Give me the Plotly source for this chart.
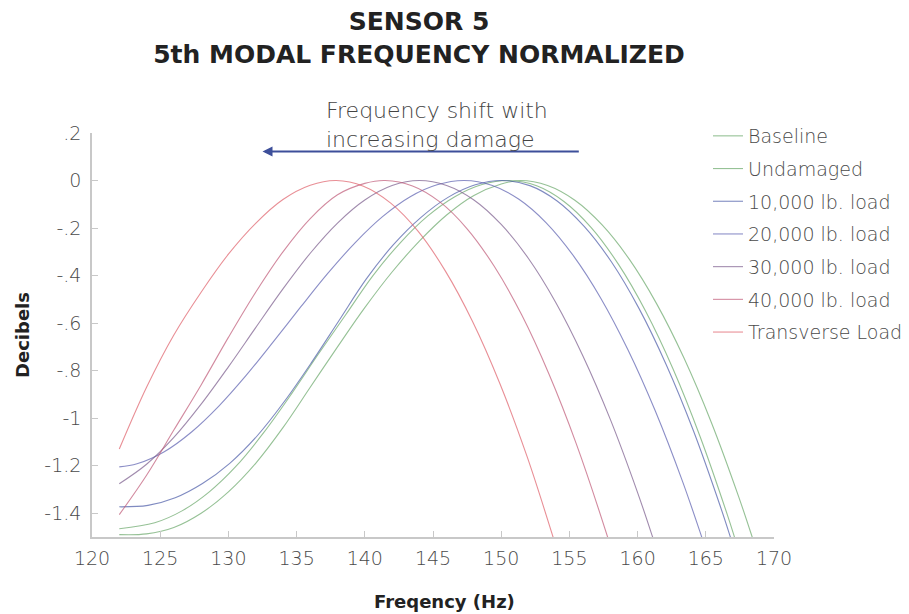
import plotly.graph_objects as go

series_names = ["Baseline", "Undamaged", "10,000 lb. load", "20,000 lb. load",
                "30,000 lb. load", "40,000 lb. load", "Transverse Load"]
series_colors = ["#6aa86a", "#6aa86a", "#4b5ba8", "#5b5fb0", "#7a5b8c", "#c05a78", "#e0606a"]

baseline_f = [122, 124, 126, 128, 130, 132, 134, 136, 138, 140, 142, 144, 146, 148, 150, 151.4,
              153.4, 155.4, 157.4, 159.4, 161.4, 163.4, 165.4, 167.4, 168.4, 169.2]
baseline_db = [-1.49, -1.487, -1.46, -1.40, -1.31, -1.19, -1.04, -0.87, -0.70, -0.535, -0.385, -0.255, -0.145,
               -0.063, -0.015, 0, -0.021, -0.083, -0.187, -0.332, -0.519, -0.747, -1.017, -1.329, -1.5, -1.644]

undamaged_f = [122, 124.6, 126.6, 128.6, 130.6, 132.6, 134.6, 136.6, 138.6, 140.6, 142.6, 144.6, 146.6,
               148.6, 150.6, 152.6, 154.6, 156.6, 158.6, 160.6, 162.6, 164.6, 166.6, 167.1, 167.9]
undamaged_db = [-1.465, -1.44, -1.39, -1.31, -1.20, -1.06, -0.90, -0.73, -0.565, -0.40, -0.262, -0.15, -0.068,
                -0.017, 0, -0.022, -0.088, -0.198, -0.353, -0.551, -0.793, -1.08, -1.41, -1.5, -1.65]

load10k_f = [122, 124.1, 126.1, 128.1, 130.1, 132.1, 134.1, 136.1, 138.1, 140.1, 142.1, 144.1, 146.1,
             148.1, 150.1, 152.1, 154.1, 156.1, 158.1, 160.1, 162.1, 164.1, 166.1, 166.8, 167.6]
load10k_db = [-1.373, -1.367, -1.335, -1.275, -1.19, -1.075, -0.93, -0.765, -0.59, -0.415, -0.27, -0.156, -0.071,
              -0.018, 0, -0.0215, -0.086, -0.194, -0.344, -0.538, -0.775, -1.054, -1.377, -1.5, -1.648]

load20k_f = [122, 123.3, 125.3, 127.3, 129.3, 131.3, 133.3, 135.3, 137.3, 139.3, 141.3, 143.3, 145.3, 147.3,
             149.3, 151.3, 153.3, 155.3, 157.3, 159.3, 161.3, 163.3, 164.7, 165.5]
load20k_db = [-1.205, -1.192, -1.141, -1.058, -0.949, -0.82, -0.678, -0.532, -0.39, -0.261, -0.152, -0.069, -0.018, 0,
              -0.02, -0.079, -0.178, -0.317, -0.495, -0.713, -0.97, -1.267, -1.5, -1.64]

load30k_f = [122, 124, 126, 128, 130, 132, 134, 136, 138, 140, 142, 144, 146, 148, 150, 152, 154, 156,
             158, 160, 161.1, 161.9]
load30k_db = [-1.276, -1.194, -1.081, -0.941, -0.784, -0.619, -0.456, -0.306, -0.179, -0.082, -0.021, 0, -0.021,
              -0.082, -0.185, -0.328, -0.513, -0.739, -1.005, -1.313, -1.5, -1.644]

load40k_f = [122, 124, 126, 128, 130, 132, 134, 136, 138, 140, 141.5, 143.5, 145.5, 147.5, 149.5, 151.5,
             153.5, 155.5, 157.8, 158.5]
load40k_db = [-1.406, -1.24, -1.05, -0.86, -0.66, -0.47, -0.30, -0.16, -0.06, -0.012, 0, -0.023, -0.09, -0.203,
              -0.362, -0.565, -0.814, -1.107, -1.5, -1.633]

transverse_f = [122, 124, 126, 128, 130, 132, 134, 136, 137.9, 139.9, 141.9, 143.9, 145.9, 147.9, 149.9,
                151.9, 153.8, 154.5]
transverse_db = [-1.13, -0.87, -0.65, -0.47, -0.31, -0.18, -0.08, -0.02, 0, -0.024, -0.095, -0.213, -0.38,
                 -0.593, -0.854, -1.162, -1.5, -1.634]

series_f = [baseline_f, undamaged_f, load10k_f, load20k_f, load30k_f, load40k_f, transverse_f]
series_db = [baseline_db, undamaged_db, load10k_db, load20k_db, load30k_db, load40k_db, transverse_db]

x_ticks = [120, 125, 130, 135, 140, 145, 150, 155, 160, 165, 170]
y_ticks = [0.2, 0, -0.2, -0.4, -0.6, -0.8, -1.0, -1.2, -1.4]
y_ticktext = [".2", "0", "-.2", "-.4", "-.6", "-.8", "-1", "-1.2", "-1.4"]

FONT = "'DejaVu Sans', sans-serif"
TXT = "#4a4a4a"
AXC = "#c8c8c8"

L, R, T, B = 92, 135, 133, 77
PW, PH = 909 - L - R, 614 - T - B


def px_x(p):
    return (p - L) / PW


def px_y(p):
    return (614 - B - p) / PH


fig = go.Figure()
for i, (name, col, fx, dbv) in enumerate(zip(series_names, series_colors, series_f, series_db)):
    fig.add_trace(go.Scatter(
        x=fx, y=dbv, mode="lines", name=name, legendgroup=f"g{i}",
        line=dict(color=col, width=1.1, shape="spline", smoothing=1.0),
        opacity=0.7,
    ))

fig.add_annotation(
    x=132.5, y=0.122, ax=155.8, ay=0.122, xref="x", yref="y", axref="x", ayref="y",
    showarrow=True, arrowhead=2, arrowsize=1, arrowwidth=2, arrowcolor="#3d4f9a", text="",
)
fig.add_annotation(
    x=px_x(324), y=px_y(125), xref="paper", yref="paper",
    text="Frequency shift with<br>increasing damage",
    showarrow=False, align="left", xanchor="left", yanchor="middle",
    font=dict(family=FONT, size=22, color="#444444", weight=300),
)

fig.update_layout(
    width=909, height=614,
    margin=dict(l=L, r=R, t=T, b=B, autoexpand=False),
    paper_bgcolor="white", plot_bgcolor="white",
    title=dict(
        text="<b>SENSOR 5<br>5th MODAL FREQUENCY NORMALIZED</b>",
        x=419 / 909, xanchor="center", y=1 - 30 / 614, yanchor="top",
        font=dict(family=FONT, size=25, color="#222222"),
    ),
    font=dict(family=FONT, color=TXT),
    showlegend=True,
    legend=dict(
        x=px_x(708), xanchor="left", y=px_y(117), yanchor="top",
        font=dict(family=FONT, size=19, color=TXT, weight=300),
        traceorder="grouped", tracegroupgap=5, itemwidth=30,
        bgcolor="rgba(0,0,0,0)",
    ),
    xaxis=dict(
        range=[120, 170], tickvals=x_ticks, ticks="inside", ticklen=6, tickcolor=AXC,
        showline=True, linecolor=AXC, linewidth=1.5, showgrid=False, zeroline=False,
        tickfont=dict(family=FONT, size=19, color=TXT, weight=300), ticklabelstandoff=3,
        title=dict(text="&nbsp;&nbsp;&nbsp;&nbsp;<b>Freqency (Hz)</b>",
                   font=dict(family=FONT, size=18, color="#222222"), standoff=28),
    ),
    yaxis=dict(
        range=[-1.5, 0.2], tickvals=y_ticks, ticktext=y_ticktext, ticks="inside", ticklen=6, tickcolor=AXC,
        showline=True, linecolor=AXC, linewidth=1.5, showgrid=False, zeroline=False,
        tickfont=dict(family=FONT, size=19, color=TXT, weight=300), ticklabelstandoff=5,
        title=dict(text="<b>Decibels</b>", font=dict(family=FONT, size=18, color="#222222"), standoff=10),
    ),
)

fig.write_html("out.html")
